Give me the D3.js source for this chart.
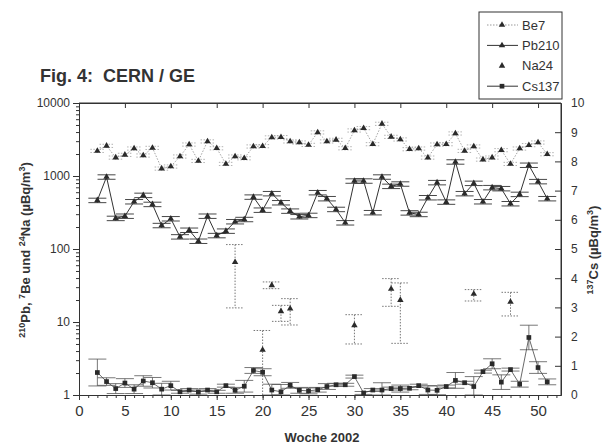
<!DOCTYPE html>
<html>
<head>
<meta charset="utf-8">
<script src="https://cdn.jsdelivr.net/npm/d3@7"></script>
<style>
  body { margin: 0; background: #fff; }
  svg { font-family: "Liberation Sans", Arial, sans-serif; }
  .axis text { font-size: 12px; fill: #333; }
  .axis path, .axis line { stroke: #333; }
</style>
</head>
<body>
<svg id="chart" width="604" height="448"></svg>
<script>
//// DATA

// weeks that have Be7 / Pb210 / Cs137 measurements
const weeks = d3.range(2, 52)

// Be7 (µBq/m3), weeks 2..51
const be7 = [2210, 2590, 1790, 1950, 2380, 1910, 2430, 1265, 1350, 1850,
  2700, 1610, 2980, 2400, 1465, 1850, 1750, 2540, 2565, 3380,
  3410, 2980, 2880, 2670, 3960, 2980, 3130, 2400, 4210, 4530,
  2730, 5190, 3440, 3170, 2330, 2380, 1790, 2700, 2730, 3830,
  2210, 2540, 1680, 1790, 2260, 1465, 2380, 2650, 2880, 1990]

// Pb210 (µBq/m3), weeks 2..51
const pb210 = [464, 970, 263, 282, 445, 544, 409, 210, 260, 147,
  181, 128, 282, 153, 176, 237, 254, 515, 341, 574,
  431, 331, 277, 289, 592, 490, 349, 229, 855, 855,
  315, 970, 723, 778, 313, 298, 505, 813, 440, 1560,
  574, 795, 445, 694, 672, 418, 561, 1406, 839, 490]

// Cs137 (µBq/m3, right axis), weeks 2..51, with its uncertainty
const cs137 = [0.77, 0.46, 0.22, 0.41, 0.20, 0.48, 0.42, 0.20, 0.32, 0.11,
  0.17, 0.10, 0.17, 0.11, 0.32, 0.16, 0.30, 0.84, 0.78, 0.17,
  0.11, 0.33, 0.16, 0.14, 0.18, 0.29, 0.35, 0.35, 0.63, 0.07,
  0.17, 0.17, 0.22, 0.22, 0.23, 0.32, 0.17, 0.16, 0.29, 0.50,
  0.42, 0.29, 0.80, 1.07, 0.44, 0.87, 0.37, 1.97, 0.94, 0.45]
const csErr = [0.46, 0.13, 0.17, 0.15, 0.15, 0.18, 0.18, 0.20, 0.15, 0.05,
  0.05, 0.07, 0.05, 0.05, 0.05, 0.10, 0.20, 0.10, 0.12, 0.20,
  0.25, 0.10, 0.10, 0.10, 0.08, 0.10, 0.05, 0.05, 0.05, 0.05,
  0.05, 0.25, 0.05, 0.12, 0.05, 0.05, 0.15, 0.15, 0.05, 0.27,
  0.05, 0.34, 0.05, 0.17, 0.25, 0.05, 0.10, 0.42, 0.20, 0.10]

// Na24 only found in a few weeks, with lower / upper error limits
const naWeeks = [17, 20, 21, 22, 23, 30, 34, 35, 43, 47]
const na24 = [66, 4.15, 31.8, 14.0, 15.2, 9.0, 28.4, 20.0, 24.2, 18.8]
const naLo = [15.6, 0.9, 28.6, 10.2, 9.1, 5.0, 16.4, 5.1, 19.4, 12.1]
const naHi = [115, 7.65, 35.4, 16.9, 20.9, 12.6, 39.3, 34.3, 27.8, 25.5]

// relative uncertainty drawn for the Be7 and Pb210 points
const be7Rel = 0.05
const pbRel = 0.07

const xTicks = d3.range(0, 51, 5)
const leftTicks = [1, 10, 100, 1000, 10000]
const rightTicks = d3.range(0, 11)

//// SCALES

const svg = d3.select("#chart")
const x = d3.scaleLinear().domain([0, 52.5]).range([79, 561])
const yL = d3.scaleLog().domain([1, 10000]).range([395, 103])
const yR = d3.scaleLinear().domain([0, 10]).range([395, 103])

const ink = "#2a2a2a"

// clip for the data
svg.append("clipPath").attr("id", "plot")
  .append("rect").attr("x", 79).attr("y", 103).attr("width", 482).attr("height", 292)

//// AXES

// minor ticks of the log axis (2..9 of each decade)
const minorLog = []
for (let d = 1; d < 10000; d *= 10)
  for (let k = 2; k < 10; k++) minorLog.push(d * k)

svg.append("g").attr("class", "axis")
  .attr("transform", "translate(79,0)")
  .call(d3.axisLeft(yL).tickValues(minorLog).tickSize(3).tickFormat("").tickSizeOuter(0))
svg.append("g").attr("class", "axis")
  .attr("transform", "translate(79,0)")
  .call(d3.axisLeft(yL).tickValues(leftTicks).tickSize(6).tickPadding(3)
    .tickFormat(d3.format("d")).tickSizeOuter(0))

svg.append("g").attr("class", "axis")
  .attr("transform", "translate(561,0)")
  .call(d3.axisRight(yR).tickValues(rightTicks).tickSize(-6).tickPadding(10).tickSizeOuter(0))

svg.append("g").attr("class", "axis")
  .attr("transform", "translate(0,395)")
  .call(d3.axisBottom(x).tickValues(d3.range(0, 53)).tickSize(3).tickFormat("").tickSizeOuter(0))
svg.append("g").attr("class", "axis x")
  .attr("transform", "translate(0,395)")
  .call(d3.axisBottom(x).tickValues(xTicks).tickSize(5).tickPadding(5).tickSizeOuter(0))
svg.selectAll(".axis.x text").style("font-size", "15px").attr("dy", "0.75em")

svg.append("g").attr("class", "axis")
  .attr("transform", "translate(0,103)")
  .call(d3.axisTop(x).tickValues(xTicks).tickSize(-5).tickFormat("").tickSizeOuter(0))

//// SERIES

const plot = svg.append("g").attr("clip-path", "url(#plot)")
const tri = d3.symbol().type(d3.symbolTriangle).size(18)
const sq = d3.symbol().type(d3.symbolSquare).size(22)

// generic error bar drawer
function errBars(g, pts, cap, style) {
  const e = g.selectAll(null).data(pts).join("g")
    .attr("stroke", style.color).attr("stroke-width", style.width)
    .attr("stroke-dasharray", style.dash || null)
  e.append("line")
    .attr("x1", d => d.x).attr("x2", d => d.x)
    .attr("y1", d => d.y0).attr("y2", d => d.y1)
  e.append("line")
    .attr("x1", d => d.x - cap).attr("x2", d => d.x + cap)
    .attr("y1", d => d.y0).attr("y2", d => d.y0)
  e.append("line")
    .attr("x1", d => d.x - cap).attr("x2", d => d.x + cap)
    .attr("y1", d => d.y1).attr("y2", d => d.y1)
}

// Be7: dotted line, light caps
const be7Pts = weeks.map((w, i) => ({ x: x(w), y: yL(be7[i]),
  y0: yL(be7[i] * (1 + be7Rel)), y1: yL(be7[i] * (1 - be7Rel)) }))
errBars(plot, be7Pts, 7, { color: "#a0a0a0", width: 0.8, dash: "1.5,1.5" })
plot.append("path")
  .attr("d", d3.line().x(d => d.x).y(d => d.y)(be7Pts))
  .attr("fill", "none").attr("stroke", "#999").attr("stroke-width", 0.9)
  .attr("stroke-dasharray", "1.5,1.5")
plot.selectAll(".be7").data(be7Pts).join("path").attr("class", "be7")
  .attr("transform", d => `translate(${d.x},${d.y})`).attr("d", tri).attr("fill", ink)

// Pb210: solid line, solid caps
const pbPts = weeks.map((w, i) => ({ x: x(w), y: yL(pb210[i]),
  y0: yL(pb210[i] * (1 + pbRel)), y1: yL(pb210[i] * (1 - pbRel)) }))
errBars(plot, pbPts, 9, { color: "#333", width: 0.9 })
plot.append("path")
  .attr("d", d3.line().x(d => d.x).y(d => d.y)(pbPts))
  .attr("fill", "none").attr("stroke", "#333").attr("stroke-width", 1)
plot.selectAll(".pb").data(pbPts).join("path").attr("class", "pb")
  .attr("transform", d => `translate(${d.x},${d.y})`).attr("d", tri).attr("fill", ink)

// Na24: only points with dotted error bars
const naPts = naWeeks.map((w, i) => ({ x: x(w), y: yL(na24[i]),
  y0: yL(naHi[i]), y1: yL(naLo[i]) }))
errBars(plot, naPts, 9, { color: "#666", width: 0.9, dash: "1.5,1.5" })
plot.selectAll(".na").data(naPts).join("path").attr("class", "na")
  .attr("transform", d => `translate(${d.x},${d.y})`).attr("d", tri).attr("fill", ink)

// Cs137 on the right axis
const csPts = weeks.map((w, i) => ({ x: x(w), y: yR(cs137[i]),
  y0: yR(cs137[i] + csErr[i]), y1: yR(Math.max(cs137[i] - csErr[i], 0)) }))
errBars(plot, csPts, 9, { color: "#555", width: 0.8 })
plot.append("path")
  .attr("d", d3.line().x(d => d.x).y(d => d.y)(csPts))
  .attr("fill", "none").attr("stroke", "#444").attr("stroke-width", 0.8)
plot.selectAll(".cs").data(csPts).join("path").attr("class", "cs")
  .attr("transform", d => `translate(${d.x},${d.y})`).attr("d", sq).attr("fill", ink)

// frame lines on top of everything
svg.append("line").attr("x1", 79).attr("x2", 561).attr("y1", 103).attr("y2", 103).attr("stroke", "#333")
svg.append("line").attr("x1", 561).attr("x2", 561).attr("y1", 103).attr("y2", 395).attr("stroke", "#333")

//// TEXT

svg.append("text").attr("x", 40).attr("y", 82)
  .attr("xml:space", "preserve")
  .style("font-size", "18px").style("font-weight", "bold").attr("fill", "#333")
  .text("Fig. 4:  CERN / GE")

svg.append("text").attr("x", 322).attr("y", 442).attr("text-anchor", "middle")
  .style("font-size", "13px").style("font-weight", "bold").attr("fill", "#333")
  .text("Woche 2002")

// rotated label with superscripts
function supLabel(parts, tx, ty) {
  const t = svg.append("text")
    .attr("transform", `translate(${tx},${ty}) rotate(-90)`)
    .attr("text-anchor", "middle")
    .style("font-size", "13px").style("font-weight", "bold").attr("fill", "#333")
  parts.forEach(([s, sup]) => {
    t.append("tspan")
      .attr("baseline-shift", sup ? "super" : null)
      .style("font-size", sup ? "9px" : null)
      .text(s)
  })
}
supLabel([["210", 1], ["Pb, ", 0], ["7", 1], ["Be und ", 0], ["24", 1], ["Na (\u00b5Bq/m", 0], ["3", 1], [")", 0]], 30, 250)
supLabel([["137", 1], ["Cs  (\u00b5Bq/m", 0], ["3", 1], [")", 0]], 598, 250)

//// LEGEND

const legend = [
  { name: "Be7", line: "dot", mark: "tri" },
  { name: "Pb210", line: "solid", mark: "tri" },
  { name: "Na24", line: null, mark: "tri" },
  { name: "Cs137", line: "solid", mark: "sq" }
]
svg.append("rect").attr("x", 479).attr("y", 12).attr("width", 83).attr("height", 87)
  .attr("fill", "#fff").attr("stroke", "#333").attr("stroke-width", 1)
const lg = svg.selectAll(".lg").data(legend).join("g").attr("class", "lg")
  .attr("transform", (d, i) => `translate(0,${25 + i * 20.4})`)
lg.filter(d => d.line).append("line")
  .attr("x1", 487).attr("x2", 518).attr("y1", 0).attr("y2", 0)
  .attr("stroke", d => d.line === "dot" ? "#999" : "#333")
  .attr("stroke-dasharray", d => d.line === "dot" ? "1.5,1.5" : null)
lg.append("path").attr("transform", "translate(502,0)")
  .attr("d", d => d.mark === "sq" ? sq() : tri()).attr("fill", ink)
lg.append("text").attr("x", 522).attr("y", 0).attr("dy", "0.35em")
  .style("font-size", "13px").attr("fill", "#333").text(d => d.name)
</script>
</body>
</html>
